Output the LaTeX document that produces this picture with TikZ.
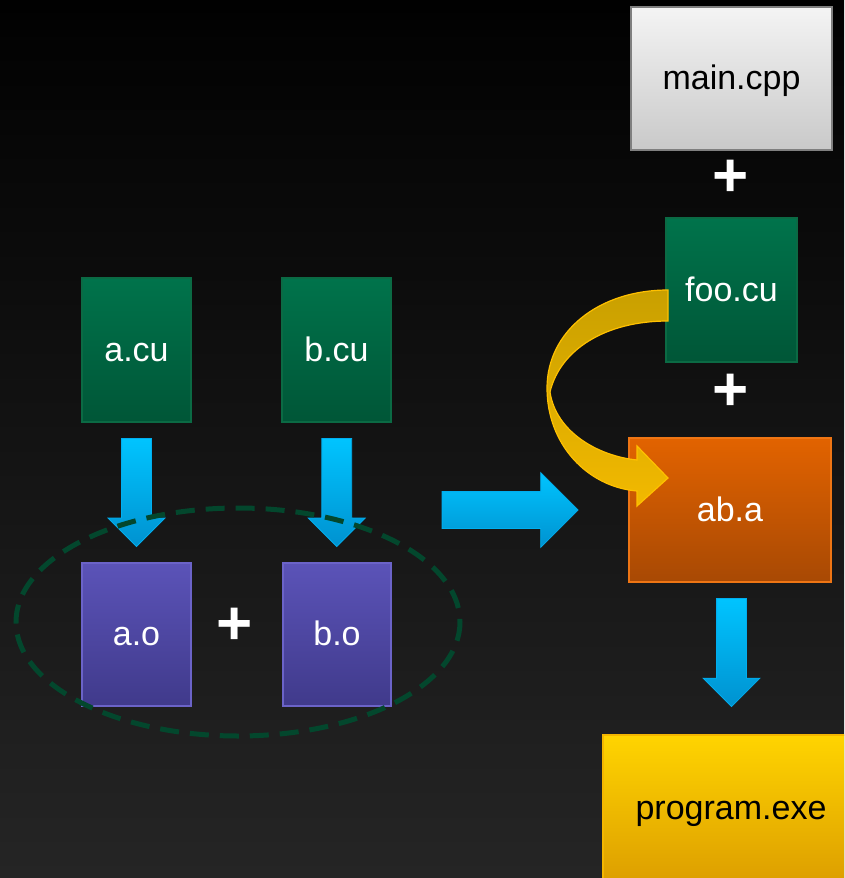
\documentclass[tikz,border=0pt]{standalone}
\usepackage{fontspec}
\setmainfont{Liberation Sans}
\usetikzlibrary{shapes.arrows,calc}

\definecolor{bgtop}{HTML}{010101}
\definecolor{bgbot}{HTML}{252525}
\definecolor{greentop}{HTML}{00734B}
\definecolor{greenbot}{HTML}{005637}
\definecolor{greenline}{HTML}{0B6A44}
\definecolor{purptop}{HTML}{5B53B8}
\definecolor{purpbot}{HTML}{403A8B}
\definecolor{purpline}{HTML}{6B63C8}
\definecolor{greytop}{HTML}{F4F4F4}
\definecolor{greybot}{HTML}{C9C9C9}
\definecolor{greyline}{HTML}{7F7F7F}
\definecolor{orangetop}{HTML}{E26300}
\definecolor{orangebot}{HTML}{A84904}
\definecolor{orangeline}{HTML}{EE7514}
\definecolor{yellowtop}{HTML}{FFD400}
\definecolor{yellowbot}{HTML}{DD9F00}
\definecolor{yellowline}{HTML}{F4B600}
\definecolor{bluetop}{HTML}{00C4FF}
\definecolor{bluebot}{HTML}{0092D0}
\definecolor{blueline}{HTML}{00AEEF}
\definecolor{goldtop}{HTML}{C9A000}
\definecolor{goldbot}{HTML}{F2B900}
\definecolor{goldline}{HTML}{FFC000}
\definecolor{ringgreen}{HTML}{03472D}

% smooth backdrop fade, dark at the top
\pgfdeclareverticalshading{backdropfade}{100bp}{color(0bp)=(bgbot); color(25bp)=(bgbot); color(75bp)=(bgtop); color(100bp)=(bgtop)}

\tikzset{
  filebox/.style={rectangle, line width=1.2pt, inner sep=0pt,
    text height=22.6pt, text depth=0pt,
    font=\fontsize{34}{40}\selectfont},
  cubox/.style={filebox, top color=greentop, bottom color=greenbot, draw=greenline, text=white},
  objbox/.style={filebox, top color=purptop, bottom color=purpbot, draw=purpline, text=white},
  srcbox/.style={filebox, top color=greytop, bottom color=greybot, draw=greyline, text=black},
  libbox/.style={filebox, top color=orangetop, bottom color=orangebot, draw=orangeline, text=white},
  exebox/.style={filebox, top color=yellowtop, bottom color=yellowbot, draw=yellowline, text=black},
  plussign/.style={text=white, inner sep=0pt, font=\fontsize{62}{62}\bfseries\selectfont},
  bluearrow/.style={single arrow, single arrow head indent=0pt,
    top color=bluetop, bottom color=bluebot, draw=blueline, line width=0.8pt},
  downarrow/.style={bluearrow, shape border rotate=270, inner sep=14.5pt,
    minimum height=108pt, minimum width=56pt, single arrow head extend=13.5pt},
  rightarrow/.style={bluearrow, inner sep=18pt,
    minimum height=136pt, minimum width=74pt, single arrow head extend=19pt},
  goldarrow/.style={top color=goldtop, bottom color=goldbot, draw=goldline, line width=1.2pt},
  dashring/.style={draw=ringgreen, line width=5pt, dash pattern=on 19pt off 11pt}
}

\begin{document}
\begin{tikzpicture}[x=1pt, y=-1pt]
  % canvas and background
  \clip (0,0) rectangle (844,878);
  \shade[shading=backdropfade] (0,0) rectangle (844,878);

  % left column: CUDA sources and object files
  \node[cubox, minimum width=109pt, minimum height=144pt] (acu) at (136.5,350) {a.cu};
  \node[cubox, minimum width=109pt, minimum height=144pt] (bcu) at (336.5,350) {b.cu};
  \node[objbox, minimum width=109pt, minimum height=143pt] (ao) at (136.5,634.5) {a.o};
  \node[objbox, minimum width=108pt, minimum height=143pt] (bo) at (337,634.5) {b.o};
  \node[plussign] (plusab) at (235,626) {+};

  % right column: host source, device source, library, executable
  \node[srcbox, minimum width=201pt, minimum height=143pt] (main) at (731.5,78.5) {main.cpp};
  \node[plussign] (plusmain) at (730.5,178) {+};
  \node[cubox, minimum width=131pt, minimum height=144pt] (foo) at (731.5,290) {foo.cu};
  \node[plussign] (plusfoo) at (731,392) {+};
  \node[libbox, minimum width=202pt, minimum height=144pt] (aba) at (730,510) {ab.a};
  \node[exebox, minimum width=256pt, minimum height=146pt] (prog) at (731,808) {program.exe};

  % compile and link arrows
  \node[downarrow] (acomp) at ($(acu.south)!0.5!(ao.north)+(0,-7.5)$) {};
  \node[downarrow] (bcomp) at ($(bcu.south)!0.5!(bo.north)+(0,-7.5)$) {};
  \node[rightarrow] (archive) at ($(aba.west)+(-127.5,0)$) {};
  \node[downarrow] (link) at ($(aba.south)+(1.5,62.5)$) {};

  % foo.cu is compiled against the library
  \draw[goldarrow]
    (668,290) .. controls (598,290) and (547,332) .. (547,388)
    .. controls (547,445) and (588,487) .. (637,491)
    -- (637,506) -- (668,478) -- (637,446) -- (637,460)
    .. controls (598,456) and (556,432) .. (550,392)
    .. controls (560,350) and (605,321) .. (668,321) -- cycle;

  % object files grouped into the archive
  \draw[dashring] (238,622) ellipse [x radius=222, y radius=114];
\end{tikzpicture}
\end{document}
